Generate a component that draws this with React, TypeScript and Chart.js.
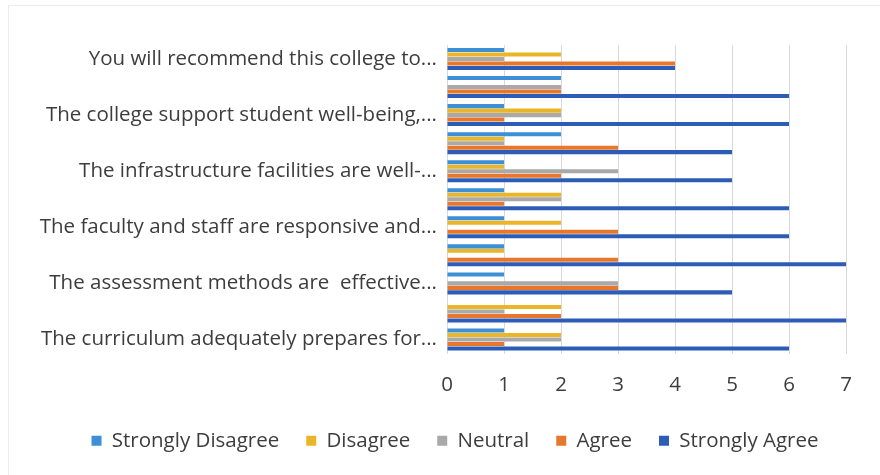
import React, { useEffect, useRef } from "react";
import { Chart, registerables } from "chart.js";

Chart.register(...registerables);

const categories = [
  "You will recommend this college to...",
  "",
  "The college support student well-being,...",
  "",
  "The infrastructure facilities are well-...",
  "",
  "The faculty and staff are responsive and...",
  "",
  "The assessment methods are  effective...",
  "",
  "The curriculum adequately prepares for...",
];

const seriesNames = ["Strongly Disagree", "Disagree", "Neutral", "Agree", "Strongly Agree"];

const stronglyDisagree = [1, 2, 1, 2, 1, 1, 1, 1, 1, 0, 1];
const disagree = [2, 0, 2, 1, 1, 2, 2, 1, 0, 2, 2];
const neutral = [1, 2, 2, 1, 3, 2, 0, 0, 3, 1, 2];
const agree = [4, 2, 1, 3, 2, 1, 3, 3, 3, 2, 1];
const stronglyAgree = [4, 6, 6, 5, 5, 6, 6, 7, 5, 7, 6];

const xTicks = [0, 1, 2, 3, 4, 5, 6, 7];

const colors = ["#3d8fd6", "#eab526", "#a9a9a9", "#e8772e", "#2c5cb5"];

const FONT = "'Open Sans', 'DejaVu Sans', sans-serif";
const TEXT = "#3d3d3d";
const SIZE = 20.5;

const legendShift = {
  id: "legendShift",
  afterLayout(chart: any) {
    if (chart.legend) chart.legend.left = 64;
  },
};

export default function App() {
  const ref = useRef<HTMLCanvasElement | null>(null);

  useEffect(() => {
    document.body.style.margin = "0";
    const values = [stronglyDisagree, disagree, neutral, agree, stronglyAgree];
    const chart = new Chart(ref.current as HTMLCanvasElement, {
      type: "bar",
      data: {
        labels: categories,
        datasets: seriesNames.map((name, i) => ({
          label: name,
          data: values[i],
          backgroundColor: colors[i],
          borderWidth: 0,
          categoryPercentage: 0.8,
          barPercentage: 0.9,
        })),
      },
      options: {
        indexAxis: "y",
        animation: false,
        responsive: false,
        maintainAspectRatio: false,
        layout: { padding: { top: 45, right: 34, bottom: 14, left: 0 } },
        scales: {
          x: {
            min: xTicks[0],
            max: xTicks[xTicks.length - 1],
            afterFit: (axis: any) => {
              axis.height = 50;
            },
            afterBuildTicks: (axis: any) => {
              axis.ticks = xTicks.map((v) => ({ value: v }));
            },
            grid: { color: "#d9d9d9", drawTicks: false },
            border: { display: false },
            ticks: {
              padding: 19,
              color: TEXT,
              font: { family: FONT, size: SIZE },
            },
          },
          y: {
            afterFit: (axis: any) => {
              axis.width = 447;
            },
            grid: { display: false, drawTicks: false },
            border: { display: false },
            ticks: {
              autoSkip: false,
              padding: 10,
              color: TEXT,
              font: { family: FONT, size: SIZE },
              callback: (_v: any, i: number) => categories[i],
            },
          },
        },
        plugins: {
          legend: {
            position: "bottom",
            labels: {
              boxWidth: 10,
              boxHeight: 10,
              padding: 27,
              color: TEXT,
              font: { family: FONT, size: SIZE },
            },
          },
          tooltip: { enabled: false },
        },
      },
      plugins: [legendShift],
    });
    return () => chart.destroy();
  }, []);

  return (
    <div style={{ width: 880, height: 475, position: "relative", background: "#fff" }}>
      <div
        style={{
          position: "absolute",
          left: 8,
          top: 5,
          right: 0,
          bottom: 0,
          borderTop: "1px solid #ececec",
          borderLeft: "1px solid #ececec",
        }}
      />
      <canvas ref={ref} width={880} height={475} style={{ display: "block", position: "relative" }} />
    </div>
  );
}
